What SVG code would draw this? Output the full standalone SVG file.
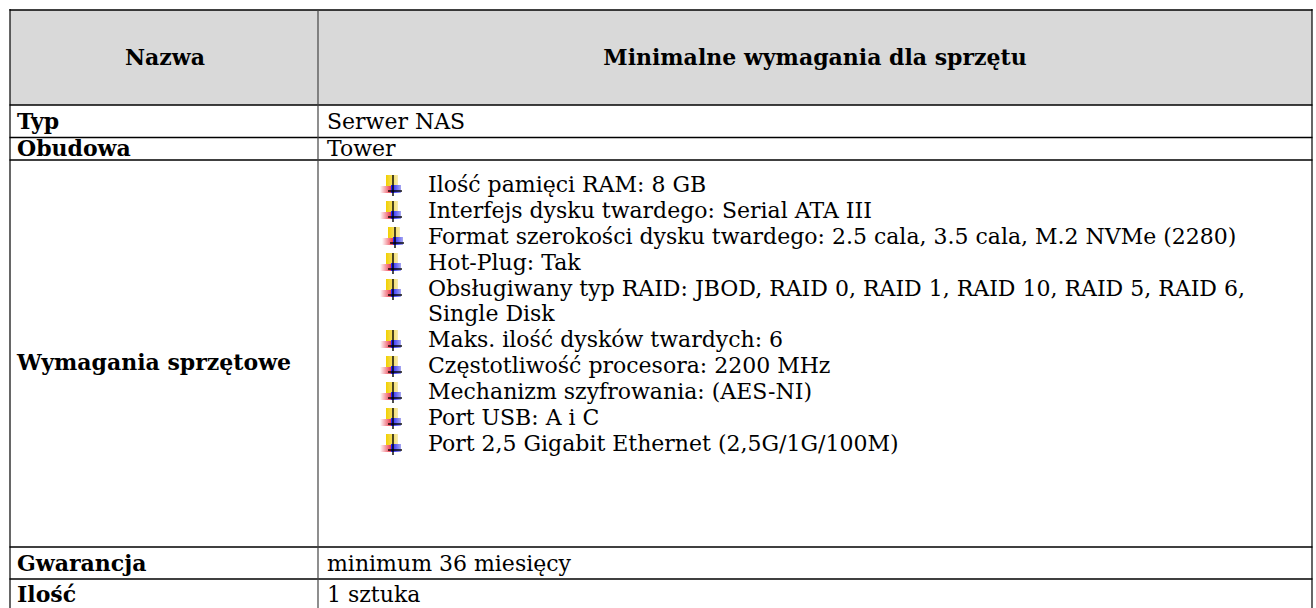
<svg xmlns="http://www.w3.org/2000/svg" xmlns:xlink="http://www.w3.org/1999/xlink" width="1316" height="608" viewBox="0 0 1316 608">
<style>
  .t { font-family: "DejaVu Serif", "Liberation Serif", serif; font-size: 22px; fill: #000; }
  .b { font-family: "DejaVu Serif", "Liberation Serif", serif; font-size: 22px; font-weight: bold; fill: #000; }
  .h { stroke: #000; stroke-width: 1.6; fill: none; }
  .v { stroke: #000; stroke-width: 1.2; fill: none; }
  .vi { stroke: #444; stroke-width: 1.2; fill: none; }
</style>
<defs>
  <linearGradient id="gy" x1="0" y1="0" x2="1" y2="0">
    <stop offset="0" stop-color="#f2d000"/>
    <stop offset="1" stop-color="#f6eab0"/>
  </linearGradient>
  <linearGradient id="gr" x1="0" y1="0" x2="1" y2="0">
    <stop offset="0" stop-color="#ffffff"/>
    <stop offset="1" stop-color="#e8283a"/>
  </linearGradient>
  <linearGradient id="gb" x1="0" y1="0" x2="1" y2="0">
    <stop offset="0" stop-color="#1a1aff"/>
    <stop offset="1" stop-color="#a8a8f0"/>
  </linearGradient>
  <symbol id="bul" viewBox="0 0 24 21" overflow="visible">
    <rect x="6" y="0" width="12" height="11" fill="url(#gy)"/>
    <rect x="0" y="11" width="12" height="7" fill="url(#gr)"/>
    <rect x="11" y="10" width="10" height="8" fill="url(#gb)"/>
    <line x1="13" y1="0" x2="13" y2="21" stroke="#000" stroke-width="1.4"/>
    <line x1="8" y1="16" x2="22" y2="16" stroke="#000" stroke-width="1.4"/>
  </symbol>
</defs>

<g id="header">
  <rect x="10" y="10" width="1302" height="95" fill="#d9d9d9"/>
  <text class="b" x="165" y="65" text-anchor="middle">Nazwa</text>
  <text class="b" x="815" y="65" text-anchor="middle">Minimalne wymagania dla sprzętu</text>
</g>

<g id="row-typ">
  <text class="b" x="17" y="129">Typ</text>
  <text class="t" x="327" y="129">Serwer NAS</text>
</g>

<g id="row-obudowa">
  <text class="b" x="17" y="156">Obudowa</text>
  <text class="t" x="327" y="156">Tower</text>
</g>

<g id="row-wymagania">
  <text class="b" x="17" y="370">Wymagania sprzętowe</text>
  <use xlink:href="#bul" x="380" y="175" width="24" height="21"/>
  <text class="t" x="428" y="192">Ilość pamięci RAM: 8 GB</text>
  <use xlink:href="#bul" x="380" y="201" width="24" height="21"/>
  <text class="t" x="428" y="218">Interfejs dysku twardego: Serial ATA III</text>
  <use xlink:href="#bul" x="382" y="227" width="24" height="21"/>
  <text class="t" x="428" y="244">Format szerokości dysku twardego: 2.5 cala, 3.5 cala, M.2 NVMe (2280)</text>
  <use xlink:href="#bul" x="380" y="253" width="24" height="21"/>
  <text class="t" x="428" y="270">Hot-Plug: Tak</text>
  <use xlink:href="#bul" x="380" y="279" width="24" height="21"/>
  <text class="t" x="428" y="296">Obsługiwany typ RAID: JBOD, RAID 0, RAID 1, RAID 10, RAID 5, RAID 6,</text>
  <text class="t" x="428" y="321">Single Disk</text>
  <use xlink:href="#bul" x="380" y="330" width="24" height="21"/>
  <text class="t" x="428" y="347">Maks. ilość dysków twardych: 6</text>
  <use xlink:href="#bul" x="380" y="356" width="24" height="21"/>
  <text class="t" x="428" y="373">Częstotliwość procesora: 2200 MHz</text>
  <use xlink:href="#bul" x="380" y="382" width="24" height="21"/>
  <text class="t" x="428" y="399">Mechanizm szyfrowania: (AES-NI)</text>
  <use xlink:href="#bul" x="380" y="408" width="24" height="21"/>
  <text class="t" x="428" y="425">Port USB: A i C</text>
  <use xlink:href="#bul" x="380" y="434" width="24" height="21"/>
  <text class="t" x="428" y="451">Port 2,5 Gigabit Ethernet (2,5G/1G/100M)</text>
</g>

<g id="row-gwarancja">
  <text class="b" x="17" y="571">Gwarancja</text>
  <text class="t" x="327" y="571">minimum 36 miesięcy</text>
</g>

<g id="row-ilosc">
  <text class="b" x="17" y="602">Ilość</text>
  <text class="t" x="327" y="602">1 sztuka</text>
</g>

<g id="grid">
  <line class="h" x1="9.5" y1="10" x2="1312.5" y2="10" stroke-width="2"/>
  <line class="h" x1="9.5" y1="105" x2="1312.5" y2="105"/>
  <line class="h" x1="9.5" y1="137.5" x2="1312.5" y2="137.5"/>
  <line class="h" x1="9.5" y1="160" x2="1312.5" y2="160"/>
  <line class="h" x1="9.5" y1="547" x2="1312.5" y2="547"/>
  <line class="h" x1="9.5" y1="579" x2="1312.5" y2="579"/>
  <line class="v" x1="10" y1="9" x2="10" y2="612"/>
  <line class="vi" x1="318" y1="10" x2="318" y2="612"/>
  <line class="v" x1="1312" y1="9" x2="1312" y2="612"/>
</g>
</svg>
